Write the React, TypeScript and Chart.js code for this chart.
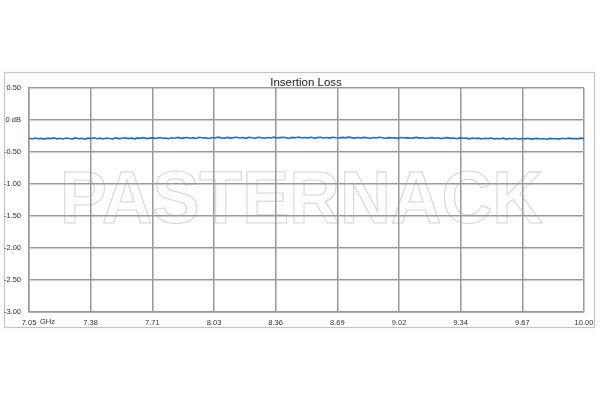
import React, { useEffect, useRef } from "react";
import { Chart, registerables } from "chart.js";

Chart.register(...registerables);

const TITLE = "Insertion Loss";
const WATERMARK = "PASTERNACK";
const FREQ_START = 7.05;
const FREQ_STOP = 10.0;
const X_TICK_LABELS = ["7.05", "7.38", "7.71", "8.03", "8.36", "8.69", "9.02", "9.34", "9.67", "10.00"];
const Y_TICKS = [0.5, 0, -0.5, -1, -1.5, -2, -2.5, -3];
const Y_TICK_LABELS = ["0.50", "0 dB", "-0.50", "-1.00", "-1.50", "-2.00", "-2.50", "-3.00"];
const LOSS_DB = [
  -0.284, -0.296, -0.281, -0.293, -0.287, -0.298, -0.283, -0.291, -0.279, -0.294,
  -0.286, -0.297, -0.282, -0.29, -0.295, -0.28, -0.292, -0.285, -0.298, -0.284,
  -0.289, -0.278, -0.293, -0.283, -0.296, -0.281, -0.288, -0.294, -0.279, -0.291,
  -0.284, -0.277, -0.29, -0.282, -0.295, -0.28, -0.287, -0.276, -0.291, -0.283,
  -0.279, -0.289, -0.274, -0.286, -0.281, -0.292, -0.277, -0.284, -0.272, -0.287,
  -0.279, -0.273, -0.285, -0.276, -0.289, -0.271, -0.282, -0.277, -0.288, -0.274,
  -0.281, -0.268, -0.279, -0.285, -0.272, -0.283, -0.275, -0.269, -0.281, -0.274,
  -0.286, -0.271, -0.278, -0.283, -0.27, -0.277, -0.284, -0.273, -0.28, -0.268,
  -0.282, -0.275, -0.27, -0.279, -0.285, -0.272, -0.278, -0.267, -0.281, -0.274,
  -0.279, -0.271, -0.284, -0.276, -0.269, -0.28, -0.273, -0.283, -0.27, -0.277,
  -0.282, -0.272, -0.279, -0.268, -0.276, -0.283, -0.274, -0.28, -0.271, -0.278,
  -0.285, -0.274, -0.281, -0.27, -0.277, -0.284, -0.275, -0.282, -0.278, -0.287,
  -0.273, -0.281, -0.276, -0.286, -0.279, -0.272, -0.283, -0.277, -0.288, -0.28,
  -0.275, -0.285, -0.278, -0.29, -0.282, -0.276, -0.287, -0.281, -0.292, -0.279,
  -0.286, -0.283, -0.294, -0.281, -0.289, -0.284, -0.297, -0.286, -0.291, -0.282,
  -0.295, -0.288, -0.293, -0.284, -0.298, -0.289, -0.294, -0.286, -0.3, -0.29,
  -0.295, -0.285, -0.299, -0.291, -0.287, -0.296, -0.289, -0.301, -0.288, -0.294,
  -0.29, -0.298, -0.286, -0.293, -0.283, -0.291, -0.288, -0.295, -0.284, -0.29,
];

const FONT = "'Liberation Sans', Arial, sans-serif";

const decorPlugin = {
  id: "decor",
  beforeDraw(chart: any) {
    const ctx = chart.ctx;
    ctx.save();
    ctx.fillStyle = "#ffffff";
    ctx.fillRect(0, 0, chart.width, chart.height);
    ctx.strokeStyle = "#c4c4c4";
    ctx.lineWidth = 1.2;
    ctx.strokeRect(4.5, 72.5, 590, 255);
    // watermark (under grid)
    ctx.font = "bold 74px 'Liberation Sans', Arial, sans-serif";
    const w = ctx.measureText(WATERMARK).width;
    const target = 483;
    ctx.translate(301.5, 223);
    ctx.scale(target / w, 1);
    ctx.textAlign = "center";
    ctx.textBaseline = "alphabetic";
    ctx.fillStyle = "#fdfdfd";
    ctx.fillText(WATERMARK, 0, 0);
    ctx.strokeStyle = "#d6d6d6";
    ctx.lineWidth = 1.1;
    ctx.strokeText(WATERMARK, 0, 0);
    ctx.restore();
  },
  afterDraw(chart: any) {
    const ctx = chart.ctx;
    ctx.save();
    ctx.fillStyle = "#222222";
    ctx.font = `11.5px ${FONT}`;
    ctx.textAlign = "center";
    ctx.textBaseline = "middle";
    ctx.fillText(TITLE, 306, 83);
    ctx.font = `7.5px ${FONT}`;
    ctx.fillStyle = "#333333";
    ctx.textAlign = "left";
    ctx.fillText("GHz", 40, 322);
    ctx.restore();
  },
};

export default function App() {
  const ref = useRef<HTMLCanvasElement | null>(null);
  useEffect(() => {
    if (!ref.current) return;
    const n = LOSS_DB.length;
    const points = LOSS_DB.map((y, i) => ({
      x: FREQ_START + (i * (FREQ_STOP - FREQ_START)) / (n - 1),
      y,
    }));
    const chart = new Chart(ref.current, {
      type: "line",
      data: {
        datasets: [
          {
            data: points,
            borderColor: "#1a6dcc",
            borderWidth: 1.6,
            pointRadius: 0,
            tension: 0,
          },
        ],
      },
      options: {
        animation: false,
        responsive: false,
        events: [],
        layout: { padding: { left: 0, right: 16, top: 88, bottom: 0 } },
        plugins: { legend: { display: false }, tooltip: { enabled: false }, title: { display: false } },
        scales: {
          x: {
            type: "linear",
            min: FREQ_START,
            max: FREQ_STOP,
            afterBuildTicks: (scale: any) => {
              scale.ticks = X_TICK_LABELS.map((_, i) => ({
                value: FREQ_START + (i * (FREQ_STOP - FREQ_START)) / (X_TICK_LABELS.length - 1),
              }));
            },
            afterFit: (scale: any) => {
              scale.height = 88;
            },
            ticks: {
              autoSkip: false,
              maxRotation: 0,
              padding: 6,
              color: "#333333",
              font: { family: FONT, size: 7.5 },
              callback: (_v: any, i: number) => X_TICK_LABELS[i],
            },
            grid: { color: "#9a9a9a", lineWidth: 1.5, drawTicks: false },
            border: { color: "#9a9a9a", width: 1.5 },
          },
          y: {
            type: "linear",
            min: -3,
            max: 0.5,
            afterBuildTicks: (scale: any) => {
              scale.ticks = Y_TICKS.map((v) => ({ value: v }));
            },
            afterFit: (scale: any) => {
              scale.width = 29;
            },
            ticks: {
              autoSkip: false,
              padding: 8,
              color: "#333333",
              font: { family: FONT, size: 7.5 },
              callback: (_v: any, i: number) => Y_TICK_LABELS[i],
            },
            grid: { color: "#9a9a9a", lineWidth: 1.5, drawTicks: false },
            border: { color: "#9a9a9a", width: 1.5 },
          },
        },
      },
      plugins: [decorPlugin],
    });
    return () => chart.destroy();
  }, []);
  return (
    <div style={{ position: "fixed", left: 0, top: 0, width: 600, height: 400, background: "#fff" }}>
      <canvas ref={ref} width={600} height={400} style={{ display: "block" }} />
    </div>
  );
}
